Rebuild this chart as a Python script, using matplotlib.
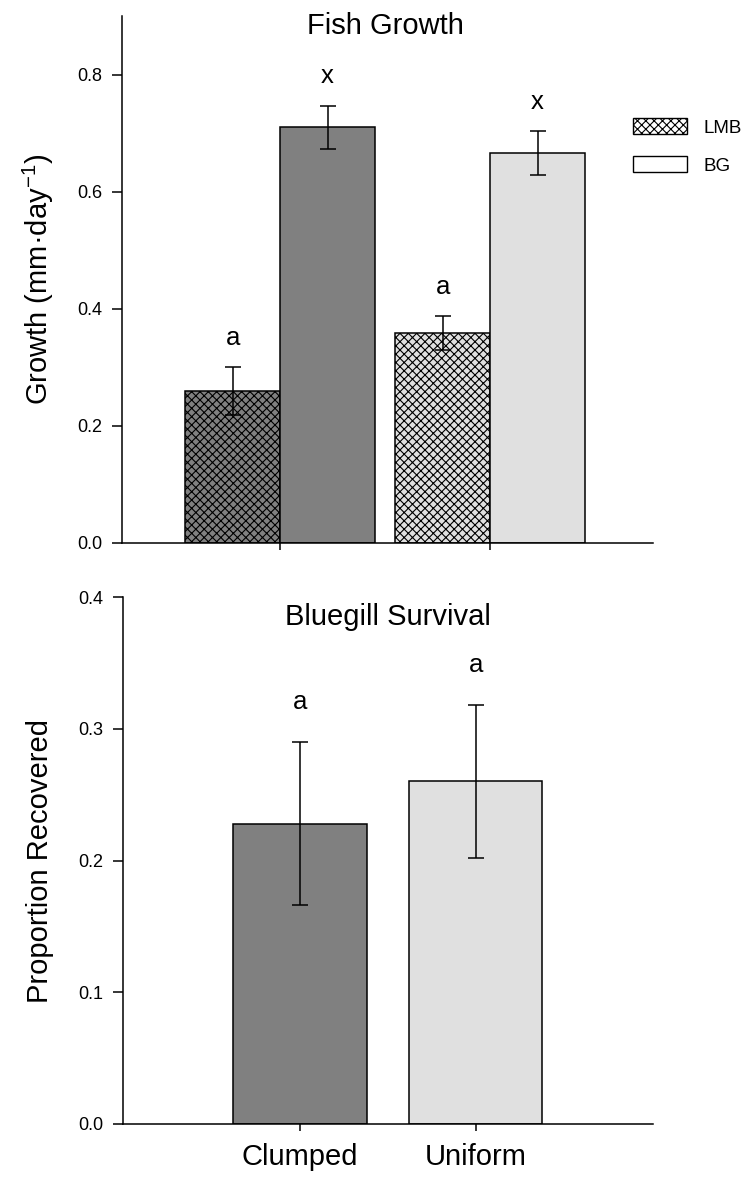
import matplotlib.pyplot as plt
from matplotlib.patches import Patch
import numpy as np

plt.rcParams['font.family'] = ['Liberation Sans', 'DejaVu Sans']
plt.rcParams['mathtext.fontset'] = 'custom'
plt.rcParams['mathtext.rm'] = 'Liberation Sans'
plt.rcParams['mathtext.default'] = 'regular'
plt.rcParams['hatch.linewidth'] = 0.8

# treatments / species
treatments = ['Clumped', 'Uniform']
species = ['LMB', 'BG']

# fish growth (mm/day), mean and SE
lmb_growth = [0.26, 0.359]
lmb_growth_se = [0.041, 0.029]
bg_growth = [0.71, 0.666]
bg_growth_se = [0.037, 0.038]
lmb_letters = ['a', 'a']
bg_letters = ['x', 'x']

# bluegill survival (proportion recovered)
survival = [0.228, 0.26]
survival_se = [0.062, 0.058]
survival_letters = ['a', 'a']

colors = ['#808080', '#e0e0e0']
tick_fs = 13
label_fs = 21


def style_axis(ax):
    for side in ['top', 'right']:
        ax.spines[side].set_visible(False)
    for side in ['left', 'bottom']:
        ax.spines[side].set_linewidth(1.1)
    ax.tick_params(axis='y', direction='out', length=7, width=1.1,
                   labelsize=tick_fs, pad=7)
    ax.tick_params(axis='x', direction='out', length=5, width=1.1)


fig = plt.figure(figsize=(7.49, 11.84), dpi=100)

# --- Fish growth ---
ax1 = fig.add_axes([0.1625, 0.5414, 0.7094, 0.445])
x = np.arange(1, len(treatments) + 1)
w = 0.452
ax1.bar(x - w / 2, lmb_growth, w, color=colors, edgecolor='black',
        hatch='xxxx', linewidth=1.1, zorder=2)
ax1.bar(x + w / 2, bg_growth, w, color=colors, edgecolor='black',
        linewidth=1.1, zorder=2)
ax1.errorbar(x - w / 2, lmb_growth, yerr=lmb_growth_se, fmt='none',
             ecolor='black', elinewidth=1.1, capsize=5.5, capthick=1.1, zorder=3)
ax1.errorbar(x + w / 2, bg_growth, yerr=bg_growth_se, fmt='none',
             ecolor='black', elinewidth=1.1, capsize=5.5, capthick=1.1, zorder=3)
for xi, m, s, t in zip(x - w / 2, lmb_growth, lmb_growth_se, lmb_letters):
    ax1.text(xi, m + s + 0.038, t, ha='center', va='baseline', fontsize=18.5)
for xi, m, s, t in zip(x + w / 2, bg_growth, bg_growth_se, bg_letters):
    ax1.text(xi, m + s + 0.038, t, ha='center', va='baseline', fontsize=18.5)

ax1.set_xlim(0.246, 2.776)
ax1.set_ylim(0, 0.9)
ax1.set_yticks(np.arange(0, 0.81, 0.2))
ax1.set_yticklabels([f'{v:.1f}' for v in np.arange(0, 0.81, 0.2)])
ax1.set_xticks(x)
ax1.set_xticklabels([])
style_axis(ax1)
ax1.set_ylabel('Growth (mm·day$^{-1}$)', fontsize=label_fs)
ax1.yaxis.set_label_coords(-0.124, 0.5)
ax1.text(x.mean(), 0.869, 'Fish Growth', ha='center', va='baseline',
         fontsize=label_fs)

handles = [Patch(facecolor='white', edgecolor='black', hatch='xxxx', label=species[0]),
           Patch(facecolor='white', edgecolor='black', label=species[1])]
fig.legend(handles=handles, loc='upper left', bbox_to_anchor=(633 / 749, 1 - 118 / 1184),
           frameon=False, fontsize=13.5, handlelength=2.9, handleheight=0.95,
           handletextpad=0.85, labelspacing=1.05, borderpad=0, borderaxespad=0)

# --- Bluegill survival ---
ax2 = fig.add_axes([0.1642, 0.0507, 0.7076, 0.445])
bw = 0.756
ax2.bar(x, survival, bw, color=colors, edgecolor='black', linewidth=1.1, zorder=2)
ax2.errorbar(x, survival, yerr=survival_se, fmt='none', ecolor='black',
             elinewidth=1.1, capsize=5.5, capthick=1.1, zorder=3)
for xi, m, s, t in zip(x, survival, survival_se, survival_letters):
    ax2.text(xi, m + s + 0.025, t, ha='center', va='baseline', fontsize=18.5)

ax2.set_xlim(-0.006, 3.006)
ax2.set_ylim(0, 0.4)
ax2.set_yticks(np.arange(0, 0.41, 0.1))
ax2.set_yticklabels([f'{v:.1f}' for v in np.arange(0, 0.41, 0.1)])
ax2.set_xticks(x)
ax2.set_xticklabels(treatments, fontsize=label_fs)
style_axis(ax2)
ax2.tick_params(axis='x', pad=9)
ax2.set_ylabel('Proportion Recovered', fontsize=label_fs)
ax2.yaxis.set_label_coords(-0.130, 0.5)
ax2.text(x.mean(), 0.379, 'Bluegill Survival', ha='center', va='baseline',
         fontsize=label_fs)

fig.savefig('out.png', dpi=100)
